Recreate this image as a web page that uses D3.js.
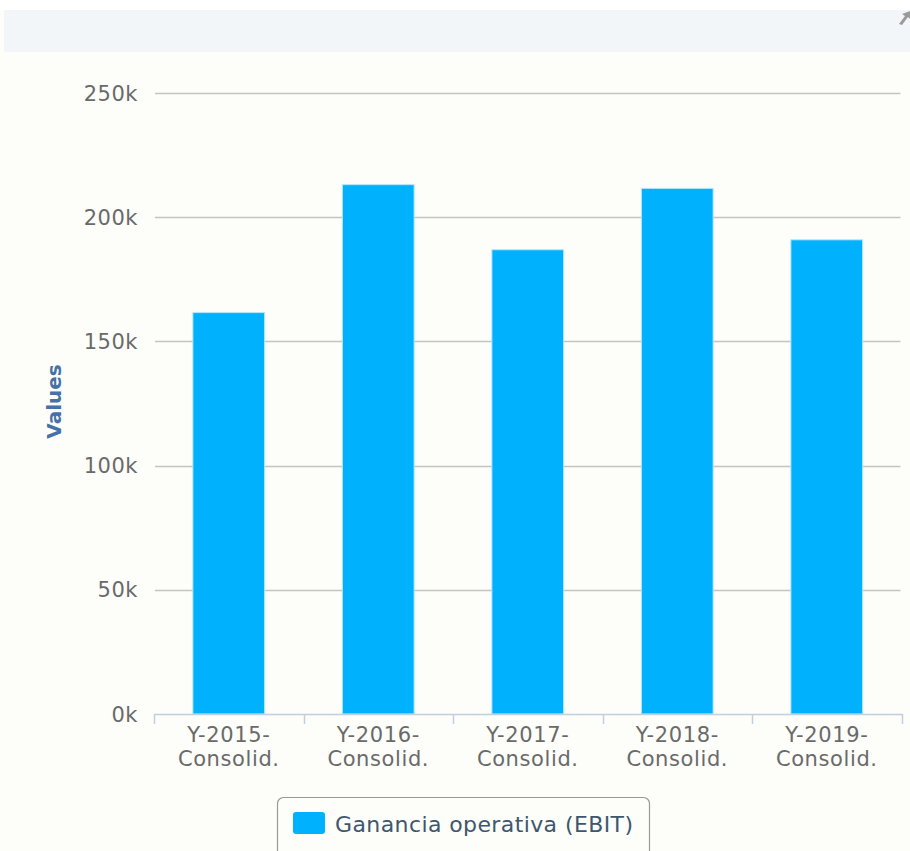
<!DOCTYPE html>
<html>
<head>
<meta charset="utf-8">
<script src="https://cdn.jsdelivr.net/npm/d3@7"></script>
<style>
  html, body { margin: 0; padding: 0; background: #ffffff; }
  svg { display: block; }
  text { font-family: "DejaVu Sans", Verdana, sans-serif; }
</style>
</head>
<body>
<svg id="chart" width="910" height="851"></svg>
<script>
// EBIT by consolidated fiscal year
const categories = [
  ["Y-2015-", "Consolid."],
  ["Y-2016-", "Consolid."],
  ["Y-2017-", "Consolid."],
  ["Y-2018-", "Consolid."],
  ["Y-2019-", "Consolid."]
];
const ebitValues = [161600, 213100, 186900, 211600, 190900];
const yTicks = [0, 50000, 100000, 150000, 200000, 250000];
const yTickLabels = ["0k", "50k", "100k", "150k", "200k", "250k"];
const seriesName = "Ganancia operativa (EBIT)";
const axisTitle = "Values";

const svg = d3.select("#chart");
const W = 910, H = 851;
const plot = { left: 154, right: 901.5, top: 93, bottom: 714 };

// page background and header band
svg.append("rect").attr("x", 0).attr("y", 10).attr("width", W).attr("height", H - 10)
  .attr("fill", "#fdfdf9");
svg.append("rect").attr("x", 4).attr("y", 10).attr("width", W - 4).attr("height", 42)
  .attr("fill", "#f3f6f8");
// expand icon in the header corner
svg.append("path")
  .attr("d", "M899,24 L905,16 L902,14 L910,11 L910,19 L908,17 L902,25 Z")
  .attr("fill", "#9a9a9a");

const x = d3.scaleBand()
  .domain(categories.map((d, i) => i))
  .range([plot.left, plot.right])
  .paddingInner(0.52)
  .paddingOuter(0.26);
const xCat = d3.scaleBand()
  .domain(categories.map((d, i) => i))
  .range([plot.left, plot.right]);

const y = d3.scaleLinear().domain([0, 250000]).range([plot.bottom, plot.top]);

// horizontal grid lines
svg.append("g")
  .selectAll("line")
  .data(yTicks.filter(v => v > 0))
  .join("line")
  .attr("x1", plot.left + 1)
  .attr("x2", plot.right - 1)
  .attr("y1", d => Math.round(y(d)) + 0.5)
  .attr("y2", d => Math.round(y(d)) + 0.5)
  .attr("stroke", "#c4c4c0")
  .attr("stroke-width", 1.3);

// y tick labels
svg.append("g")
  .selectAll("text")
  .data(yTicks)
  .join("text")
  .attr("x", 138)
  .attr("y", d => y(d))
  .attr("dy", "0.36em")
  .attr("text-anchor", "end")
  .attr("font-size", 21)
  .attr("letter-spacing", 0.5)
  .attr("fill", "#6a6a6a")
  .text((d, i) => yTickLabels[i]);

// y axis title
svg.append("text")
  .attr("transform", `translate(61,${(plot.top + plot.bottom) / 2 - 2}) rotate(-90)`)
  .attr("text-anchor", "middle")
  .attr("font-size", 20)
  .attr("font-weight", "bold")
  .attr("fill", "#4572a7")
  .text(axisTitle);

// bars
svg.append("g")
  .selectAll("rect")
  .data(ebitValues)
  .join("rect")
  .attr("x", (d, i) => x(i))
  .attr("y", d => y(d))
  .attr("width", x.bandwidth())
  .attr("height", d => plot.bottom - y(d))
  .attr("fill", "#00b1fe")
  .attr("stroke", "#b5e6fc")
  .attr("stroke-width", 1);

// x axis line and category ticks
const xAxis = svg.append("g");
xAxis.append("line")
  .attr("x1", plot.left).attr("x2", plot.right + 0.5)
  .attr("y1", plot.bottom + 0.5).attr("y2", plot.bottom + 0.5)
  .attr("stroke", "#c0d0e0").attr("stroke-width", 1.5);
const boundaries = categories.map((d, i) => xCat(i)).concat([plot.right]);
xAxis.selectAll("line.tick")
  .data(boundaries)
  .join("line")
  .attr("class", "tick")
  .attr("x1", d => Math.round(d) + 0.5)
  .attr("x2", d => Math.round(d) + 0.5)
  .attr("y1", plot.bottom)
  .attr("y2", plot.bottom + 10)
  .attr("stroke", "#c0d0e0")
  .attr("stroke-width", 1.5);

// category labels (two lines each)
const labels = svg.append("g")
  .selectAll("text")
  .data(categories)
  .join("text")
  .attr("text-anchor", "middle")
  .attr("font-size", 21)
  .attr("letter-spacing", 0.6)
  .attr("fill", "#6a6a6a");
labels.each(function (d, i) {
  const cx = xCat(i) + xCat.bandwidth() / 2;
  d3.select(this).selectAll("tspan")
    .data(d)
    .join("tspan")
    .attr("x", cx)
    .attr("y", (t, j) => 742 + j * 24)
    .text(t => t);
});

// legend
const legend = svg.append("g");
legend.append("rect")
  .attr("x", 277.5).attr("y", 797.5)
  .attr("width", 372).attr("height", 70)
  .attr("rx", 6)
  .attr("fill", "#fdfdf9")
  .attr("stroke", "#999999")
  .attr("stroke-width", 1.2);
legend.append("rect")
  .attr("x", 293).attr("y", 812)
  .attr("width", 32).attr("height", 22)
  .attr("rx", 3)
  .attr("fill", "#00b1fe");
legend.append("text")
  .attr("x", 335).attr("y", 832)
  .attr("font-size", 22)
  .attr("letter-spacing", 0.4)
  .attr("fill", "#3e576f")
  .text(seriesName);
</script>
</body>
</html>
